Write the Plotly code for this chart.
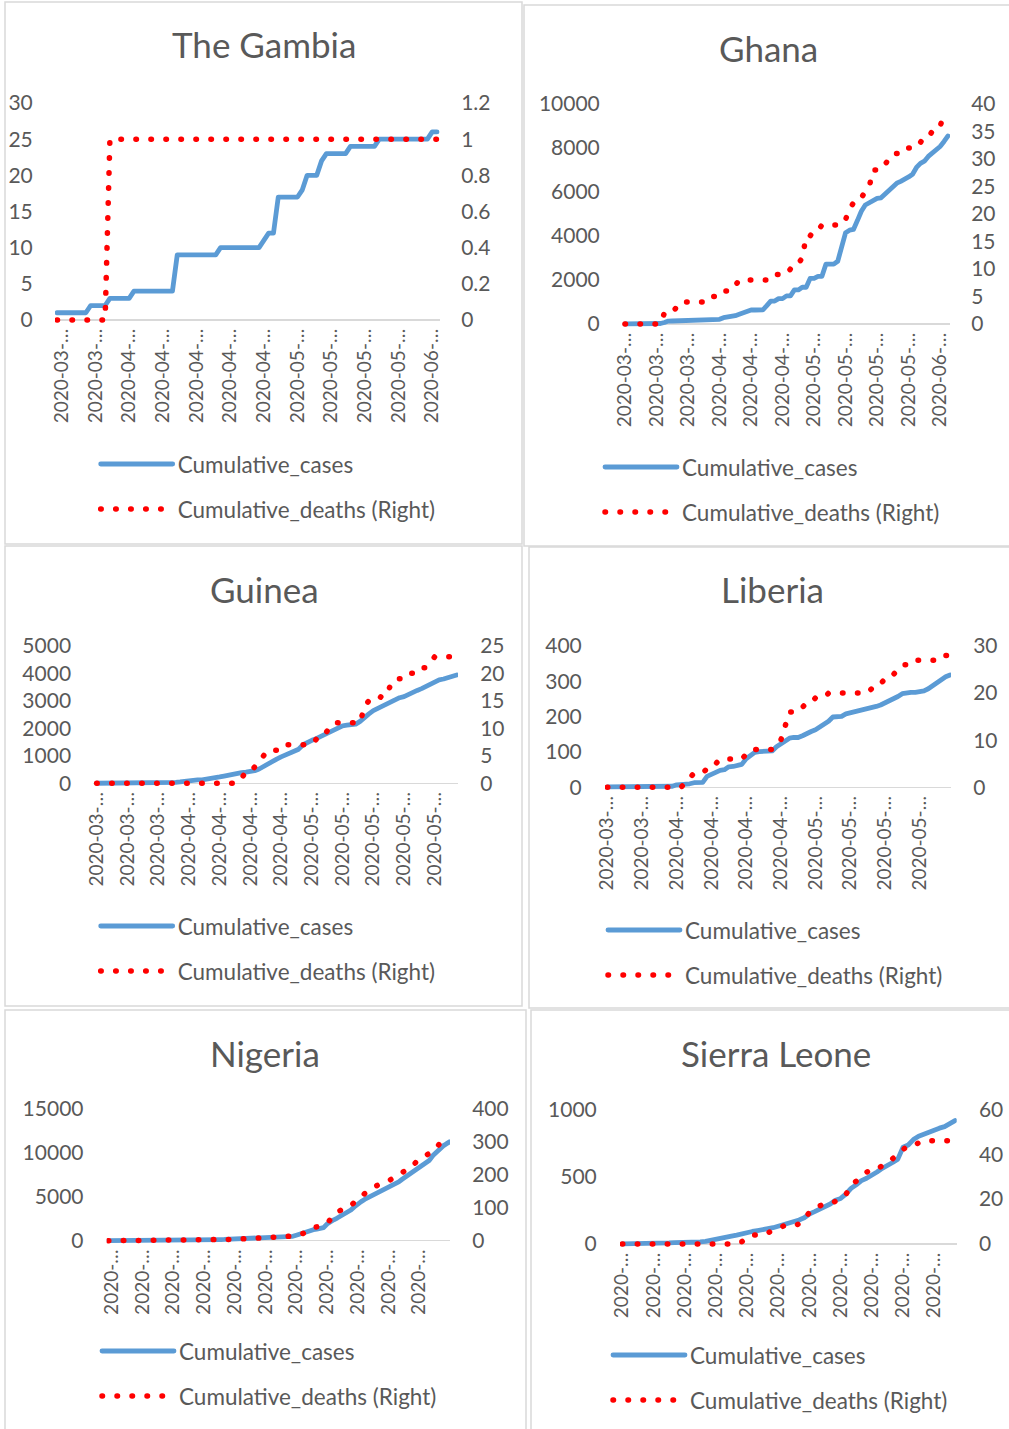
import plotly.graph_objects as go

# ---------------- DATA ----------------
countries = ["The Gambia", "Ghana", "Guinea", "Liberia", "Nigeria", "Sierra Leone"]

gambia_cases = [1, 1, 1, 1, 1, 1, 1, 2, 2, 2, 2, 3, 3, 3, 3, 3, 4, 4, 4, 4, 4, 4, 4, 4, 4,
                9, 9, 9, 9, 9, 9, 9, 9, 9, 10, 10, 10, 10, 10, 10, 10, 10, 10, 11, 12, 12,
                17, 17, 17, 17, 17, 18, 20, 20, 20, 22, 23, 23, 23, 23, 23, 24, 24, 24, 24, 24, 24,
                25, 25, 25, 25, 25, 25, 25, 25, 25, 25, 25, 26, 26]
gambia_deaths = [0, 0, 0, 0, 0, 0, 0, 0, 0, 0, 0, 1, 1, 1, 1, 1, 1, 1, 1, 1, 1, 1, 1, 1, 1, 1,
                 1, 1, 1, 1, 1, 1, 1, 1, 1, 1, 1, 1, 1, 1, 1, 1, 1, 1, 1, 1, 1, 1, 1, 1, 1, 1, 1,
                 1, 1, 1, 1, 1, 1, 1, 1, 1, 1, 1, 1, 1, 1, 1, 1, 1, 1, 1, 1, 1, 1, 1, 1, 1, 1, 1]

ghana_cases = [2, 2, 6, 6, 7, 9, 11, 16, 19, 23, 68, 132, 137, 141, 152, 152, 161, 195, 204, 205,
               208, 214, 214, 214, 214, 287, 313, 330, 378, 440, 520, 566, 636, 636, 641, 641, 834,
               1042, 1042, 1154, 1154, 1279, 1279, 1550, 1550, 1671, 1671, 2074, 2074, 2169,
               2169, 2719, 2719, 2719, 2850, 3600, 4150, 4263, 4300, 4700, 5127, 5408, 5530, 5638,
               5710, 5735, 5918, 6096, 6269, 6400, 6486, 6617, 6683, 6808, 7117, 7303, 7400, 7616,
               7768, 7881, 8070, 8297, 8548]
ghana_deaths = [0, 0, 0, 0, 0, 0, 0, 0, 0, 0, 2, 2, 2, 3, 3, 4, 4, 4, 4, 4, 4, 5, 5, 5, 5, 6, 6,
                6, 7, 8, 8, 8, 8, 8, 8, 8, 8, 9, 9, 9, 9, 9, 10, 11, 11, 12, 16, 16, 17, 17, 18, 18,
                18, 18, 18, 18, 19, 21, 22, 22, 23, 24, 25, 28, 28, 29, 29, 30, 31, 31, 31, 31, 32,
                32, 32, 33, 34, 34, 35, 36, 36, 38, 38]

guinea_cases = [1, 1, 1, 1, 1, 2, 2, 4, 4, 4, 4, 8, 8, 12, 16, 16, 22, 30, 36, 48,
                73, 100, 111, 121, 128, 144, 170, 200, 230, 260, 300, 330, 365, 390, 410, 430, 460,
                520, 620, 700, 790, 880, 960, 1020, 1090, 1170, 1240, 1400, 1500, 1560,
                1620, 1700, 1780, 1840, 1930, 2010, 2090, 2110, 2140, 2150, 2250, 2400, 2520, 2640,
                2720, 2790, 2850, 2930, 3030, 3110, 3150, 3210, 3290, 3375, 3440, 3530, 3620, 3706,
                3760, 3790, 3844, 3886, 3935]
guinea_deaths = [0, 0, 0, 0, 0, 0, 0, 0, 0, 0, 0, 0, 0, 0, 0, 0, 0, 0, 0, 0, 0, 0, 0, 0, 0, 0,
                 0, 0, 0, 0, 0, 0, 0, 1, 2, 2, 3, 4, 5, 6, 6, 6, 6, 7, 7, 7, 7, 7, 7, 7, 8, 8, 9,
                 10, 11, 11, 11, 11, 11, 11, 11, 14, 15, 15, 15, 16, 16, 18, 19, 19, 19, 20, 20, 20,
                 21, 21, 22, 23, 23, 23, 23, 23, 23]

liberia_cases = [1, 1, 1, 2, 2, 3, 3, 3, 3, 3, 3, 3, 3, 3, 3, 3, 7, 7, 8, 10,
                 13, 13, 14, 31, 37, 45, 48, 50, 58, 59, 63, 65, 81, 91, 99, 101, 101, 101, 103, 115,
                 124, 131, 139, 141, 141, 146, 154, 158, 163, 170, 178, 187, 199, 201, 201, 208, 211,
                 213, 214, 219, 223, 226, 229, 233, 239, 242, 249, 257, 265, 268, 269, 269, 270, 273,
                 279, 288, 296, 306, 313, 318]
liberia_deaths = [0, 0, 0, 0, 0, 0, 0, 0, 0, 0, 0, 0, 0, 0, 0, 0, 0, 0, 1, 2, 3, 3, 3, 4, 5, 5,
                  6, 6, 6, 6, 6, 6, 7, 8, 8, 8, 8, 8, 8, 9, 10, 13, 16, 16, 16, 17, 18, 18, 19, 19,
                  19, 20, 20, 20, 20, 20, 20, 20, 20, 20, 20, 21, 21, 22, 23, 24, 24, 25, 26, 26, 27,
                  27, 27, 27, 27, 27, 27, 27, 28, 28]

nigeria_cases = [1, 1, 1, 1, 1, 1, 1, 1, 1, 2, 2, 2, 2, 2, 2, 2, 2, 2, 3, 8,
                 8, 12, 22, 30, 40, 46, 51, 65, 70, 89, 97, 111, 120, 131, 140, 160, 180, 200, 210, 220,
                 230, 240, 255, 270, 290, 310, 335, 345, 355, 370, 380, 400, 420, 445, 500, 620, 760,
                 900, 1050, 1200, 1250, 1320, 1400, 1480, 1900, 2200, 2380, 2580, 2780, 2950,
                 3150, 3500, 3850, 4200, 4450, 4700, 4900, 5050, 5230, 5400, 5600, 5770, 6000, 6250,
                 6450, 6700, 7000, 7280, 7530, 7800, 8050, 8300, 8560, 8850, 9170, 9700, 10100,
                 10500, 10800, 11050, 11280]
nigeria_deaths = [0, 0, 0, 0, 0, 0, 0, 0, 0, 0, 0, 0, 0, 0, 0, 0, 0, 0, 0, 0, 0,
                  1, 1, 1, 1, 1, 1, 1, 2, 2, 2, 2, 2, 2, 2, 2, 3, 4, 5, 5, 6,
                  6, 7, 7, 8, 8, 9, 10, 10, 11, 11, 12, 12, 13, 14, 17, 18, 22, 28, 35, 40,
                  42, 44, 47, 52, 65, 80, 87, 93, 98, 100, 106, 117, 128, 133, 143, 151, 158, 165,
                  170, 173, 176, 181, 188, 195, 199, 205, 212, 219, 226, 238, 246, 254, 260, 266,
                  270, 280, 295, 309, 312, 314]

sierra_cases = [1, 1, 1, 2, 4, 6, 6, 6, 7, 8, 10, 10, 11, 11, 12, 15, 19, 25, 35, 45,
                50, 58, 66, 78, 86, 93, 100, 104, 114, 121, 131, 141, 155, 163, 178, 195, 223, 240,
                257, 280, 297, 325, 338, 370, 413, 440, 470, 488, 507, 535, 562, 580, 605, 630, 718,
                735, 775, 800, 815, 835, 851, 860, 871, 895, 916]
sierra_deaths = [0, 0, 0, 0, 0, 0, 0, 0, 0, 0, 0, 0, 0, 0, 0, 0, 0, 0, 0, 0, 0, 0,
                 1, 1, 3, 4, 4, 4, 5, 6, 7, 8, 8, 8, 9, 12, 14, 16, 17, 18, 18, 19,
                 21, 22, 26, 28, 30, 32, 33, 33, 35, 37, 38, 40, 42, 44, 44, 45, 45, 46, 46, 46,
                 46, 46, 46]

# tick values / labels
gambia_left_ticks = [0, 5, 10, 15, 20, 25, 30]
gambia_right_ticks = [0, 0.2, 0.4, 0.6, 0.8, 1, 1.2]
gambia_right_text = ["0", "0.2", "0.4", "0.6", "0.8", "1", "1.2"]
ghana_left_ticks = [0, 2000, 4000, 6000, 8000, 10000]
ghana_right_ticks = [0, 5, 10, 15, 20, 25, 30, 35, 40]
guinea_left_ticks = [0, 1000, 2000, 3000, 4000, 5000]
guinea_right_ticks = [0, 5, 10, 15, 20, 25]
liberia_left_ticks = [0, 100, 200, 300, 400]
liberia_right_ticks = [0, 10, 20, 30]
nigeria_left_ticks = [0, 5000, 10000, 15000]
nigeria_right_ticks = [0, 100, 200, 300, 400]
sierra_left_ticks = [0, 500, 1000]
sierra_right_ticks = [0, 20, 40, 60]

gambia_xtick_pos = [1, 8, 15, 22, 29, 36, 43, 50, 57, 64, 71, 78]
gambia_xtick_text = ["2020-03-…", "2020-03-…", "2020-04-…", "2020-04-…", "2020-04-…", "2020-04-…",
                     "2020-04-…", "2020-05-…", "2020-05-…", "2020-05-…", "2020-05-…", "2020-06-…"]
ghana_xtick_pos = [0, 8, 16, 24, 32, 40, 48, 56, 64, 72, 80]
ghana_xtick_text = ["2020-03-…", "2020-03-…", "2020-03-…", "2020-04-…", "2020-04-…", "2020-04-…",
                    "2020-05-…", "2020-05-…", "2020-05-…", "2020-05-…", "2020-06-…"]
guinea_xtick_pos = [0, 7, 14, 21, 28, 35, 42, 49, 56, 63, 70, 77]
guinea_xtick_text = ["2020-03-…", "2020-03-…", "2020-03-…", "2020-04-…", "2020-04-…", "2020-04-…",
                     "2020-04-…", "2020-05-…", "2020-05-…", "2020-05-…", "2020-05-…", "2020-05-…"]
liberia_xtick_pos = [0, 8, 16, 24, 32, 40, 48, 56, 64, 72]
liberia_xtick_text = ["2020-03-…", "2020-03-…", "2020-04-…", "2020-04-…", "2020-04-…", "2020-04-…",
                      "2020-05-…", "2020-05-…", "2020-05-…", "2020-05-…"]
nigeria_xtick_pos = [1, 10, 19, 28, 37, 46, 55, 64, 73, 82, 91]
nigeria_xtick_text = ["2020-…", "2020-…", "2020-…", "2020-…", "2020-…", "2020-…",
                      "2020-…", "2020-…", "2020-…", "2020-…", "2020-…"]
sierra_xtick_pos = [0, 6, 12, 18, 24, 30, 36, 42, 48, 54, 60]
sierra_xtick_text = ["2020-…", "2020-…", "2020-…", "2020-…", "2020-…", "2020-…",
                     "2020-…", "2020-…", "2020-…", "2020-…", "2020-…"]

series_names = ["Cumulative_cases", "Cumulative_deaths (Right)"]

# ---------------- assembly ----------------
all_cases = [gambia_cases, ghana_cases, guinea_cases, liberia_cases, nigeria_cases, sierra_cases]
all_deaths = [gambia_deaths, ghana_deaths, guinea_deaths, liberia_deaths, nigeria_deaths, sierra_deaths]
left_ticks = [gambia_left_ticks, ghana_left_ticks, guinea_left_ticks, liberia_left_ticks,
              nigeria_left_ticks, sierra_left_ticks]
right_ticks = [gambia_right_ticks, ghana_right_ticks, guinea_right_ticks, liberia_right_ticks,
               nigeria_right_ticks, sierra_right_ticks]
right_text = [gambia_right_text, None, None, None, None, None]
xtick_pos = [gambia_xtick_pos, ghana_xtick_pos, guinea_xtick_pos, liberia_xtick_pos,
             nigeria_xtick_pos, sierra_xtick_pos]
xtick_text = [gambia_xtick_text, ghana_xtick_text, guinea_xtick_text, liberia_xtick_text,
              nigeria_xtick_text, sierra_xtick_text]

for c, d in zip(all_cases, all_deaths):
    assert len(c) == len(d), (len(c), len(d))

# ---------------- LAYOUT GEOMETRY (pixels) ----------------
W, H = 1009, 1429
TXT = "#595959"
BLUE = "#5B9BD5"
RED = "#FF0000"
LINEC = "#D9D9D9"
FONT = "Lato"

geo = [
    dict(title=(264, 44), axL=55, axR=440, p0=57, pN=437, y0=320, yT=103,
         lgap=20, rgap=19, leg=(100.7, 464), border=(5, 2, 522, 544)),
    dict(title=(768, 48), axL=622, axR=950, p0=625, pN=948, y0=324, yT=104,
         lgap=20, rgap=19, leg=(605, 467), border=(524, 5, 1013, 546)),
    dict(title=(264, 589), axL=93.3, axR=458, p0=96.7, pN=456.7, y0=783.3, yT=645.7,
         lgap=20, rgap=20, leg=(100.7, 926), border=(5, 546, 522, 1006)),
    dict(title=(772, 589), axL=605, axR=951, p0=607.3, pN=950, y0=787.3, yT=646,
         lgap=21, rgap=20, leg=(608, 930), border=(529, 547, 1013, 1008)),
    dict(title=(265, 1053), axL=106.7, axR=450, p0=108.3, pN=450, y0=1240.7, yT=1109,
         lgap=21, rgap=20, leg=(102, 1351), border=(5, 1010, 526, 1433)),
    dict(title=(776, 1053), axL=620, axR=956.7, p0=622.3, pN=955, y0=1244, yT=1109.3,
         lgap=21, rgap=20, leg=(613, 1355), border=(531, 1010, 1013, 1433)),
]


def fx(x):
    return x / W


def fy(y):
    return 1 - y / H


fig = go.Figure()
layout = dict(
    width=W, height=H, autosize=False,
    margin=dict(l=0, r=0, t=0, b=0),
    paper_bgcolor="white", plot_bgcolor="rgba(0,0,0,0)",
    template="none",
    font=dict(family=FONT, color=TXT, size=21),
    shapes=[], annotations=[],
)

PAD_B, PAD_T = 4, 3
LEG_FONT = 22.5
item_h = LEG_FONT * 1.3 + 3

for i in range(6):
    g = geo[i]
    n = len(all_cases[i])
    xs = list(range(n))
    ppp = (g["pN"] - g["p0"]) / (n - 1)
    xr = [(g["axL"] - g["p0"]) / ppp, (n - 1) + (g["axR"] - g["pN"]) / ppp]
    span = g["y0"] - g["yT"]
    lmax = left_ticks[i][-1]
    rmax = right_ticks[i][-1]
    yr_l = [-PAD_B * lmax / span, lmax + PAD_T * lmax / span]
    yr_r = [-PAD_B * rmax / span, rmax + PAD_T * rmax / span]
    ydom = [fy(g["y0"] + PAD_B), fy(g["yT"] - PAD_T)]
    xdom = [fx(g["axL"]), fx(g["axR"])]

    xa = f"xaxis{'' if i == 0 else i + 1}"
    yl = f"yaxis{'' if i == 0 else i + 1}"
    yr = f"yaxis{i + 7}"
    xref = f"x{'' if i == 0 else i + 1}"
    ylref = f"y{'' if i == 0 else i + 1}"
    yrref = f"y{i + 7}"
    legname = "legend" if i == 0 else f"legend{i + 1}"

    layout[xa] = dict(domain=xdom, range=xr, anchor=ylref, showgrid=False, zeroline=False,
                      showline=False, ticks="", tickmode="array", tickvals=xtick_pos[i],
                      ticktext=xtick_text[i], tickangle=-90,
                      tickfont=dict(family=FONT, size=19, color=TXT), fixedrange=True)
    layout[yl] = dict(domain=ydom, range=yr_l, anchor=xref, side="left", showgrid=False,
                      zeroline=True, zerolinecolor=LINEC, zerolinewidth=1.5, showline=False,
                      ticks="outside", ticklen=g["lgap"] - 3, tickcolor="rgba(0,0,0,0)",
                      tickmode="array", tickvals=left_ticks[i],
                      ticktext=[str(v) for v in left_ticks[i]],
                      tickfont=dict(family=FONT, size=21, color=TXT), fixedrange=True)
    rtext = right_text[i] if right_text[i] is not None else [str(v) for v in right_ticks[i]]
    layout[yr] = dict(domain=ydom, range=yr_r, anchor=xref, overlaying=ylref, side="right",
                      showgrid=False, zeroline=False, showline=False,
                      ticks="outside", ticklen=g["rgap"] - 3, tickcolor="rgba(0,0,0,0)",
                      tickmode="array", tickvals=right_ticks[i], ticktext=rtext,
                      tickfont=dict(family=FONT, size=21, color=TXT), fixedrange=True)

    fig.add_trace(go.Scatter(x=xs, y=all_cases[i], xaxis=xref, yaxis=ylref, mode="lines",
                             name=series_names[0], line=dict(color=BLUE, width=4.8),
                             legend=legname, legendgroup=f"c{i}", hoverinfo="skip"))
    fig.add_trace(go.Scatter(x=xs, y=all_deaths[i], xaxis=xref, yaxis=yrref, mode="lines",
                             name=series_names[1],
                             line=dict(color=RED, width=5.5, dash="0.5px,14.5px"),
                             legend=legname, legendgroup=f"d{i}", hoverinfo="skip"))

    lx, ly = g["leg"]
    layout[legname] = dict(x=fx(lx - 5), y=fy(ly - 5 - item_h / 2), xanchor="left", yanchor="top",
                           bgcolor="rgba(0,0,0,0)", borderwidth=0, itemwidth=72,
                           tracegroupgap=45 - item_h, traceorder="grouped",
                           font=dict(family=FONT, size=LEG_FONT, color=TXT),
                           itemclick=False, itemdoubleclick=False)

    bx0, by0, bx1, by1 = g["border"]
    layout["shapes"].append(dict(type="rect", xref="paper", yref="paper",
                                 x0=fx(bx0), x1=fx(bx1), y0=fy(by1), y1=fy(by0),
                                 line=dict(color=LINEC, width=1.5), fillcolor="rgba(0,0,0,0)",
                                 layer="below"))
    tx, ty = g["title"]
    layout["annotations"].append(dict(text=countries[i], xref="paper", yref="paper",
                                      x=fx(tx), y=fy(ty), xanchor="center", yanchor="middle",
                                      showarrow=False,
                                      font=dict(family=FONT, size=35, color=TXT)))

fig.update_layout(**layout)

post = ("var s=document.createElement('style');"
        "s.textContent='body{margin:0;} path.js-line{stroke-linecap:round !important;"
        "stroke-linejoin:round !important;}';"
        "document.head.appendChild(s);")
fig.write_html("out.html", post_script=post, config={"displayModeBar": False, "staticPlot": True})
